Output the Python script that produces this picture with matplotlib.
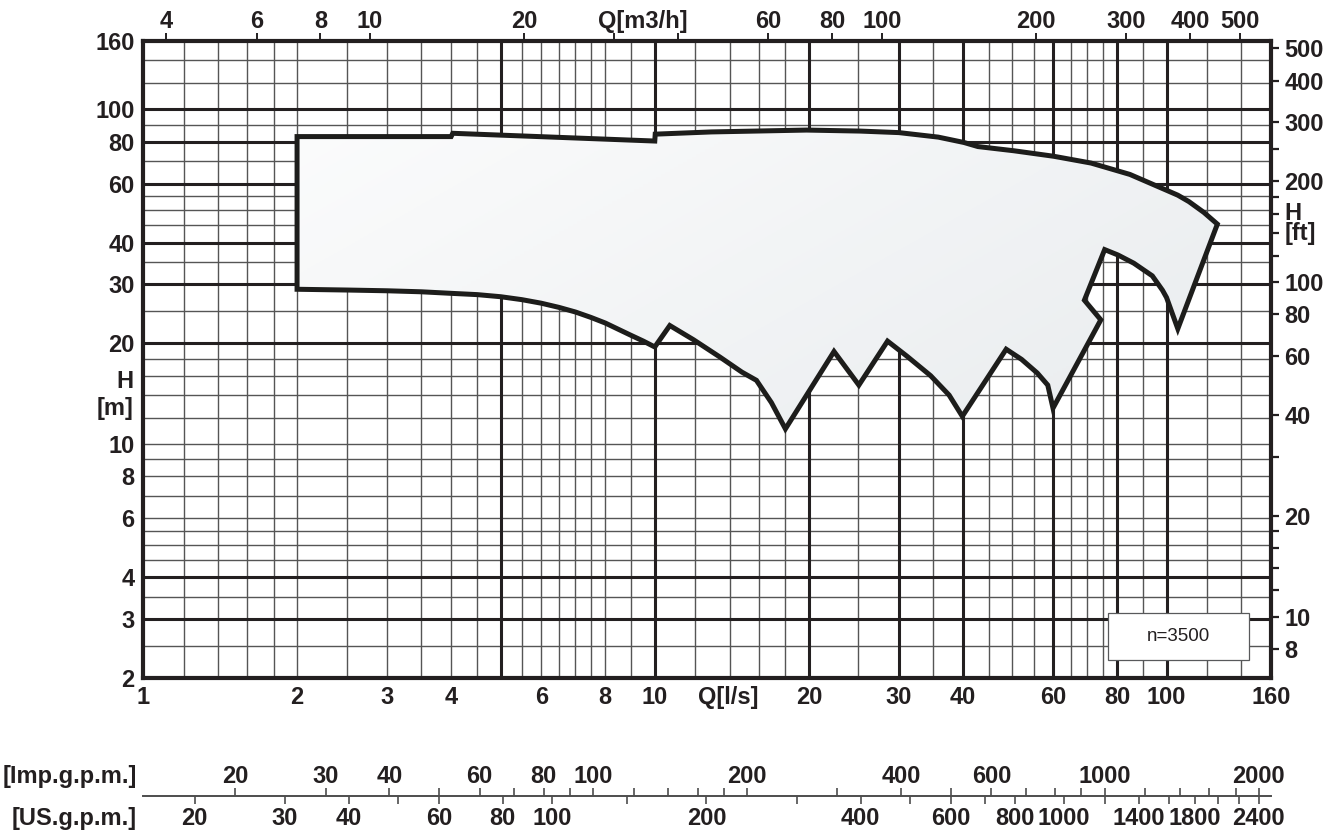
"""Pump performance envelope on log-log grid (H vs Q) with unit scales."""

import matplotlib
matplotlib.use("Agg")
import matplotlib.pyplot as plt
import numpy as np
from matplotlib.colors import LinearSegmentedColormap
from matplotlib.patches import Rectangle
from matplotlib.ticker import NullFormatter, NullLocator

INK = "#231f20"
GRID_THIN = "#555555"
FS = 17

plt.rcParams["font.family"] = ["Liberation Sans", "DejaVu Sans"]
plt.rcParams["font.weight"] = "bold"

# envelope outline, clockwise from the bottom-left corner (Q in l/s, H in m)
ENV_Q = [2, 2, 4.0, 4.03, 10.0, 10.02, 12.9, 19.8, 25.2, 30, 35.8, 40.2, 42.8, 50.3, 60.2,
         71.2, 84.8, 100, 105.2, 110.6, 118.3, 125.7,
         105.2, 100, 98.2, 93.8, 86.3, 80.4, 75.7, 69.1, 74.4,
         60.0, 58.6, 55.9, 52.1, 48.6, 39.9, 37.6, 34.6, 31.1, 28.5, 25.05, 22.4,
         18.0, 16.9, 15.8, 14.8, 13.4, 11.9, 10.7, 10.0,
         9.5, 9.0, 8.5, 8.0, 7.5, 7.0, 6.5, 6.0, 5.5, 5.0, 4.5, 4.0, 3.5, 3.0, 2.5]
ENV_H = [29.0, 82.9, 82.9, 84.8, 80.4, 84.3, 85.6, 86.7, 86.1, 85.2, 82.6, 79.6, 77.4, 75.2, 72.4,
         69.1, 63.9, 57.3, 55.4, 53.0, 49.2, 45.4,
         22.1, 27.4, 28.8, 31.8, 34.7, 36.7, 38.1, 26.9, 23.5,
         12.8, 15.0, 16.3, 17.9, 19.2, 12.1, 14.0, 16.0, 18.3, 20.3, 15.0, 18.9,
         11.1, 13.3, 15.5, 16.4, 18.2, 20.5, 22.6, 19.5,
         20.3, 21.1, 22.0, 23.0, 23.9, 24.8, 25.6, 26.35, 27.0, 27.55, 27.95, 28.2, 28.5, 28.7,
         28.85]

# grid
Q_THICK = [5, 10, 20, 30, 40, 60, 80, 100]
Q_THIN = [1.2, 1.4, 1.6, 1.8, 2, 2.5, 3, 3.5, 4, 4.5, 5.5, 6, 6.5, 7, 7.5, 8, 9, 12, 14, 16, 18,
          25, 35, 45, 50, 55, 65, 70, 75, 90, 120, 140]
H_THICK = [3, 4, 20, 30, 40, 60, 80, 100]
H_THIN = [2.5, 3.5, 4.5, 5, 5.5, 6, 7, 8, 9, 10, 12, 14, 16, 18, 25, 35, 45, 50, 55, 70, 90,
          120, 140]

# axis ticks
Q_LS_TICKS = [1, 2, 3, 4, 6, 8, 10, 20, 30, 40, 60, 80, 100, 160]
H_M_TICKS = [2, 3, 4, 6, 8, 10, 20, 30, 40, 60, 80, 100, 160]
Q_M3H_TICKS = [4, 6, 8, 10, 20, 30, 40, 60, 80, 100, 200, 300, 400, 500]
Q_M3H_LABELS = ["4", "6", "8", "10", "20", "", "", "60", "80", "100", "200", "300", "400", "500"]
H_FT_TICKS = [500, 400, 300, 250, 200, 180, 160, 140, 120, 100, 80, 60, 40, 30, 20, 18, 16, 14,
              12, 10, 8]
H_FT_LABELS = ["500", "400", "300", "", "200", "", "", "", "", "100", "80", "60", "40", "",
               "20", "", "", "", "", "10", "8"]
H_FT_CAPTION_TICKS = [160, 140]  # "H" / "[ft]" sit on these ticks
IMP_TICKS = [20, 30, 40, 50, 60, 70, 80, 90, 100, 120, 140, 160, 180, 200, 300, 400, 500, 600,
             700, 800, 900, 1000, 1200, 1400, 1600, 1800, 2000]
IMP_LABELS = ["20", "30", "40", "", "60", "", "80", "", "100", "", "", "", "", "200", "", "400",
              "", "600", "", "", "", "1000", "", "", "", "", "2000"]
US_TICKS = [20, 30, 40, 50, 60, 80, 100, 140, 200, 300, 400, 500, 600, 700, 800, 1000, 1200,
            1400, 1600, 1800, 2000, 2200, 2400]
US_LABELS = ["20", "30", "40", "", "60", "80", "100", "", "200", "", "400", "", "600", "", "800",
             "1000", "", "1400", "", "1800", "", "", "2400"]

M3H_PER_LS = 3.6
FT_PER_M = 3.28084
IMP_PER_LS = 13.198
US_PER_LS = 15.850

W, H = 1339, 836
fig = plt.figure(figsize=(W / 100, H / 100), dpi=100)
fig.patch.set_facecolor("white")

left, right, top, bottom = 143, 1271, 41, 678
ax = fig.add_axes([left / W, 1 - bottom / H, (right - left) / W, (bottom - top) / H])
ax.set_xscale("log")
ax.set_yscale("log")
ax.set_xlim(1, 160)
ax.set_ylim(2, 160)
ax.set_autoscale_on(False)

for q in Q_THIN:
    ax.axvline(q, color=GRID_THIN, lw=1.0, zorder=1)
for h in H_THIN:
    ax.axhline(h, color=GRID_THIN, lw=1.0, zorder=1)
for q in Q_THICK:
    ax.axvline(q, color=INK, lw=2.2, zorder=1.2)
for h in H_THICK:
    ax.axhline(h, color=INK, lw=2.2, zorder=1.2)

# envelope with a soft diagonal gradient
env = ax.fill(ENV_Q, ENV_H, facecolor="none", edgecolor="none", zorder=3)[0]
g = np.linspace(0, 1, 256)
gx, gy = np.meshgrid(g, g)
cmap = LinearSegmentedColormap.from_list("env", ["#ffffff", "#e3e7ea"])
img = ax.imshow((gx + gy) / 2, cmap=cmap, extent=[0, 1, 0, 1], transform=ax.transAxes,
                aspect="auto", origin="upper", zorder=3, interpolation="bilinear")
img.set_clip_path(env)
ax.set_xlim(1, 160)
ax.set_ylim(2, 160)
ax.fill(ENV_Q, ENV_H, facecolor="none", edgecolor="#1d1d1b", lw=3.6, joinstyle="miter", zorder=4)

for s in ax.spines.values():
    s.set_linewidth(3.0)
    s.set_color(INK)
    s.set_zorder(6)

ax.xaxis.set_minor_locator(NullLocator())
ax.yaxis.set_minor_locator(NullLocator())
ax.set_xticks(Q_LS_TICKS, [str(v) for v in Q_LS_TICKS])
ax.set_yticks(H_M_TICKS, [str(v) for v in H_M_TICKS])
ax.tick_params(axis="both", length=0, labelsize=FS, labelcolor=INK)
ax.tick_params(axis="x", pad=5.5)
ax.tick_params(axis="y", pad=6)

ax.annotate("Q[l/s]", xy=(0.5186, 0), xycoords="axes fraction", xytext=(0, -5.5),
            textcoords="offset points", ha="center", va="top", fontsize=FS, color=INK)
ax.text(-0.008, 0.4647, "H", transform=ax.transAxes, ha="right", va="center", fontsize=FS,
        color=INK)
ax.text(-0.008, 0.4223, "[m]", transform=ax.transAxes, ha="right", va="center", fontsize=FS,
        color=INK)

# top scale in m3/h
top_ax = ax.secondary_xaxis("top", functions=(lambda q: q * M3H_PER_LS,
                                              lambda q: q / M3H_PER_LS))
top_ax.set_xticks(Q_M3H_TICKS, Q_M3H_LABELS)
top_ax.xaxis.set_minor_locator(NullLocator())
top_ax.xaxis.set_minor_formatter(NullFormatter())
top_ax.tick_params(direction="out", length=5.5, width=1.4, color=INK, pad=0, labelsize=FS,
                   labelcolor=INK)
for s in top_ax.spines.values():
    s.set_visible(False)
ax.annotate("Q[m3/h]", xy=(0.4433, 1), xycoords="axes fraction", xytext=(0, 5.5),
            textcoords="offset points", ha="center", va="bottom", fontsize=FS, color=INK)

# right scale in ft
right_ax = ax.secondary_yaxis("right", functions=(lambda h: h * FT_PER_M,
                                                  lambda h: h / FT_PER_M))
right_ax.set_yticks(H_FT_TICKS, H_FT_LABELS)
right_ax.yaxis.set_minor_locator(NullLocator())
right_ax.yaxis.set_minor_formatter(NullFormatter())
right_ax.tick_params(direction="out", length=6, width=1.6, color=INK, pad=3.5, labelsize=FS,
                     labelcolor=INK)
for s in right_ax.spines.values():
    s.set_visible(False)
# two-line unit caption centred between its two ticks
caption_m = np.sqrt(H_FT_CAPTION_TICKS[0] * H_FT_CAPTION_TICKS[1]) / FT_PER_M
ax.annotate("H\n[ft]", xy=(1, caption_m), xycoords=("axes fraction", "data"), xytext=(9.5, 0),
            textcoords="offset points", ha="left", va="center", fontsize=FS, color=INK,
            linespacing=0.82)

# speed note
ax.add_patch(Rectangle((0.8558, 0.0283), 0.125, 0.0742, transform=ax.transAxes,
                       facecolor="white", edgecolor="#58595b", lw=0.9, zorder=5))
ax.text(0.9183, 0.0654, "n=3500", transform=ax.transAxes, ha="center", va="center",
        fontsize=13.5, fontweight="normal", color=INK, zorder=6)

# gallons-per-minute scales
line_y = 796
gax = fig.add_axes([left / W, 1 - line_y / H, (right - left) / W, 1e-4])
gax.set_xscale("log")
gax.set_xlim(1, 160)
gax.set_yticks([])
gax.xaxis.set_major_locator(NullLocator())
gax.xaxis.set_minor_locator(NullLocator())
for name, s in gax.spines.items():
    s.set_visible(name == "bottom")
gax.spines["bottom"].set_color("#4d4d4d")
gax.spines["bottom"].set_linewidth(1.4)
gax.patch.set_visible(False)

imp_ax = gax.secondary_xaxis("top", functions=(lambda q: q * IMP_PER_LS,
                                               lambda g_: g_ / IMP_PER_LS))
imp_ax.set_xticks(IMP_TICKS, IMP_LABELS)
imp_ax.xaxis.set_minor_locator(NullLocator())
imp_ax.xaxis.set_minor_formatter(NullFormatter())
imp_ax.tick_params(direction="out", length=6, width=1.2, color="#4d4d4d", pad=-0.5,
                   labelsize=FS, labelcolor=INK)

us_ax = gax.secondary_xaxis("bottom", functions=(lambda q: q * US_PER_LS,
                                                 lambda g_: g_ / US_PER_LS))
us_ax.set_xticks(US_TICKS, US_LABELS)
us_ax.xaxis.set_minor_locator(NullLocator())
us_ax.xaxis.set_minor_formatter(NullFormatter())
us_ax.tick_params(direction="out", length=6, width=1.2, color="#4d4d4d", pad=2, labelsize=FS,
                  labelcolor=INK)
for sec in (imp_ax, us_ax):
    for s in sec.spines.values():
        s.set_visible(False)

fig.text(137 / W, 1 - 777 / H, "[Imp.g.p.m.]", ha="right", va="center", fontsize=FS, color=INK)
fig.text(137 / W, 1 - 819 / H, "[US.g.p.m.]", ha="right", va="center", fontsize=FS, color=INK)

fig.savefig("out.png", dpi=100, facecolor="white")
